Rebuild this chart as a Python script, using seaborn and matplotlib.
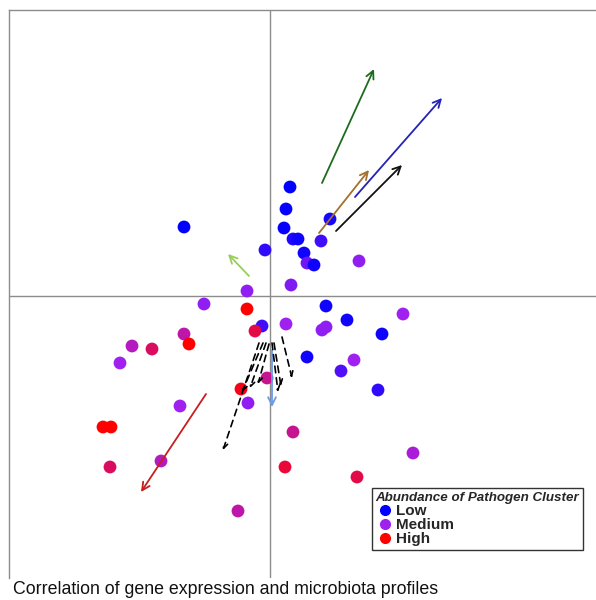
import numpy as np
import pandas as pd
import matplotlib
matplotlib.use("Agg")
import matplotlib.pyplot as plt
from matplotlib.colors import LinearSegmentedColormap
from matplotlib.lines import Line2D
import seaborn as sns

# sample scores on the two ordination axes, and pathogen cluster abundance (0 low .. 1 high)
SCORE_1 = [-0.86, 0.20, 0.16, 0.14, 0.23, 0.28, -0.05, 0.34, 0.60, 0.51,
           0.37, 0.44, 0.89, -0.23, 0.21, -0.66, 0.56, 0.77, 1.33, 0.52,
           0.56, 1.12, 0.37, 0.84, 0.71, 1.08, 1.43, 0.87,
           -0.23, -0.08, -0.15, 0.16, -0.86, -0.81, -1.38, -1.18, -1.50, -0.03,
           -0.29, -0.22, -0.90, -1.67, -1.59, 0.23, -1.60, -1.09, 0.15, -0.32]
SCORE_2 = [0.69, 1.09, 0.87, 0.68, 0.57, 0.57, 0.46, 0.43, 0.77, 0.55,
           0.33, 0.31, 0.35, 0.05, 0.11, -0.08, -0.10, -0.24, -0.18, -0.34,
           -0.31, -0.38, -0.61, -0.64, -0.75, -0.94, -1.57, -1.81,
           -0.13, -0.30, -0.35, -0.28, -0.38, -0.48, -0.50, -0.53, -0.67, -0.82,
           -0.93, -1.07, -1.10, -1.31, -1.31, -1.36, -1.71, -1.65, -1.71, -2.15]
ABUNDANCE = [0.0, 0.0, 0.02, 0.02, 0.1, 0.05, 0.15, 0.05, 0.08, 0.2,
             0.35, 0.05, 0.45, 0.45, 0.4, 0.45, 0.05, 0.05, 0.5, 0.45,
             0.45, 0.05, 0.05, 0.5, 0.25, 0.15, 0.55, 0.85,
             1.0, 0.2, 0.85, 0.5, 0.65, 1.0, 0.6, 0.8, 0.5, 0.7,
             0.95, 0.45, 0.5, 1.0, 1.0, 0.7, 0.8, 0.6, 0.88, 0.65]

# fitted variable vectors (start -> end)
VEC_X0 = [0.52, 0.85, 0.49, 0.66, -0.21, -0.64, 0.02]
VEC_Y0 = [1.13, 0.99, 0.63, 0.65, 0.20, -0.98, -0.54]
VEC_X1 = [1.04, 1.72, 0.99, 1.32, -0.42, -1.29, 0.02]
VEC_Y1 = [2.27, 1.98, 1.26, 1.31, 0.42, -1.96, -1.11]
VEC_COLORS = ["#1e6b1e", "#2323b8", "#a4702c", "#111111", "#9acd5a", "#c81e1e", "#6a9ae8"]

# dashed vectors
DASH_X0 = [-0.11, -0.07, -0.04, -0.01, 0.02, 0.04, 0.12]
DASH_Y0 = [-0.47, -0.47, -0.47, -0.48, -0.47, -0.47, -0.41]
DASH_X1 = [-0.47, -0.28, -0.20, -0.12, 0.08, 0.11, 0.22]
DASH_Y1 = [-1.54, -0.96, -0.92, -0.88, -0.96, -0.90, -0.82]

LEGEND_LABELS = ["Low", "Medium", "High"]
LEGEND_COLORS = ["#0000ff", "#a020f0", "#ff0000"]


def main():
    df = pd.DataFrame({"x": SCORE_1, "y": SCORE_2, "abund": ABUNDANCE})
    cmap = LinearSegmentedColormap.from_list("abund", LEGEND_COLORS)

    sns.set_style("white")
    plt.rcParams["font.family"] = ["Liberation Sans", "DejaVu Sans"]

    fig = plt.figure(figsize=(5.96, 6.0), dpi=100)
    ax = fig.add_axes([9 / 596, 22 / 600, 1 - 9 / 596, 568 / 600])

    ax.axhline(0, color="#8c8c8c", lw=1, zorder=0)
    ax.axvline(0, color="#8c8c8c", lw=1, zorder=0)

    sns.scatterplot(data=df, x="x", y="y", hue="abund", palette=cmap,
                    hue_norm=(0, 1), s=85, edgecolor="none", legend=False,
                    ax=ax, zorder=2)

    for x0, y0, x1, y1, c in zip(VEC_X0, VEC_Y0, VEC_X1, VEC_Y1, VEC_COLORS):
        ax.annotate("", xy=(x1, y1), xytext=(x0, y0),
                    arrowprops=dict(arrowstyle="->", color=c, lw=1.3,
                                    mutation_scale=14, shrinkA=0, shrinkB=0),
                    zorder=3)
    for x0, y0, x1, y1 in zip(DASH_X0, DASH_Y0, DASH_X1, DASH_Y1):
        ax.annotate("", xy=(x1, y1), xytext=(x0, y0),
                    arrowprops=dict(arrowstyle="->", color="black", lw=1.2,
                                    ls=(0, (4, 3)), mutation_scale=9,
                                    shrinkA=0, shrinkB=0),
                    zorder=3)

    ax.set_xlim(-2.61, 3.26)
    ax.set_ylim(-2.82, 2.86)
    ax.set_xticks([])
    ax.set_yticks([])
    ax.set_xlabel("")
    ax.set_ylabel("")
    for side in ["right", "bottom"]:
        ax.spines[side].set_visible(False)
    for side in ["left", "top"]:
        ax.spines[side].set_color("#8c8c8c")
        ax.spines[side].set_linewidth(1)

    handles = [Line2D([], [], marker="o", ls="", color=c, markersize=7)
               for c in LEGEND_COLORS]
    leg = ax.legend(handles, LEGEND_LABELS, title="Abundance of Pathogen Cluster",
                    loc="lower right", bbox_to_anchor=(583 / 596, 50 / 600),
                    bbox_transform=fig.transFigure, borderaxespad=0,
                    frameon=True, fancybox=False, edgecolor="#333333",
                    framealpha=1, prop={"weight": "bold", "size": 11},
                    title_fontproperties={"weight": "bold", "style": "italic", "size": 9.6},
                    alignment="left", labelspacing=0.0, handletextpad=0.1,
                    handlelength=1.25, borderpad=0.25)
    leg.get_frame().set_linewidth(1)

    fig.text(13 / 596, 10 / 600, "Correlation of gene expression and microbiota profiles",
             fontsize=12.8, va="center", ha="left", color="#111111")

    plt.savefig("out.png", dpi=100)


if __name__ == '__main__':
    main()
